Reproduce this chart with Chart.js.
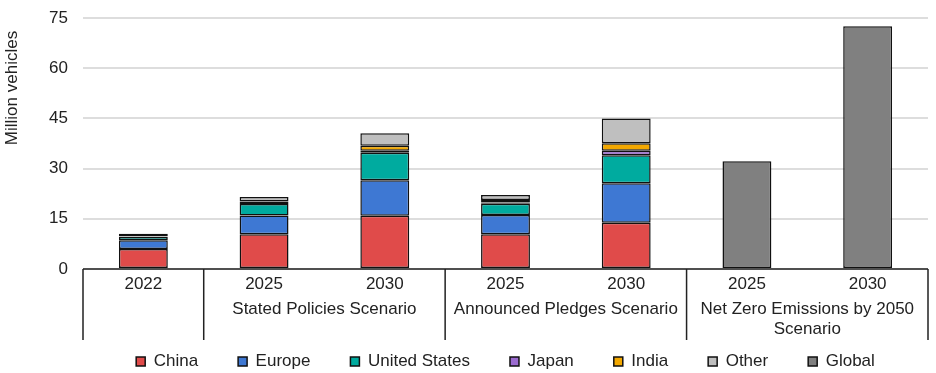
<!DOCTYPE html>
<html>
<head>
<meta charset="utf-8">
<title>Electric car sales by scenario</title>
<script src="https://cdn.jsdelivr.net/npm/chart.js@4.4.1/dist/chart.umd.min.js"></script>
<style>
  html, body { margin: 0; padding: 0; background: #fff; }
  #chartBox { width: 936px; height: 373px; }
</style>
</head>
<body>
<div id="chartBox"><canvas id="evChart"></canvas></div>
<script>
// Tick labels along the bottom, one per bar
const years = ["2022", "2025", "2030", "2025", "2030", "2025", "2030"];
// Scenario groups under the years (how many bars each one spans)
const groupNames = ["", "Stated Policies Scenario", "Announced Pledges Scenario", ["Net Zero Emissions by 2050", "Scenario"]];
const groupSpans = [1, 2, 2, 2];
const yTicks = [0, 15, 30, 45, 60, 75];
const yTitle = "Million vehicles";

// Million vehicles
const china = [6.0, 10.4, 15.9, 10.4, 13.8, null, null];
const europe = [2.6, 5.6, 10.6, 5.7, 11.8, null, null];
const unitedStates = [1.0, 3.4, 8.2, 3.4, 8.4, null, null];
const japan = [0.1, 0.3, 0.6, 0.4, 1.3, null, null];
const india = [0.1, 0.5, 1.5, 0.7, 2.3, null, null];
const other = [0.7, 1.3, 3.8, 1.5, 7.4, null, null];
const globalTotal = [null, null, null, null, null, 32.2, 72.5];

const FONT = '"Liberation Sans", Arial, sans-serif';
Chart.defaults.font.family = FONT;
Chart.defaults.font.size = 17;
Chart.defaults.color = "#222";

function series(label, data, color) {
  return {
    label: label,
    data: data,
    backgroundColor: color,
    borderColor: "#111",
    borderWidth: 1.5,
    borderSkipped: false,
    barPercentage: 0.405,
    categoryPercentage: 1
  };
}

// Draws the boxed category axis (base line, group separators, scenario names)
// and the y axis title, which sits high up on the left like in the original
const groupAxis = {
  id: "groupAxis",
  afterDraw(chart) {
    const ctx = chart.ctx;
    const area = chart.chartArea;
    const x = chart.scales.x;
    const edge = (i) => {
      if (i <= 0) return x.left;
      if (i >= years.length) return x.right;
      return (x.getPixelForValue(i - 1) + x.getPixelForValue(i)) / 2;
    };
    ctx.save();
    ctx.strokeStyle = "#222";
    ctx.lineWidth = 1.5;
    ctx.beginPath();
    ctx.moveTo(x.left, area.bottom);
    ctx.lineTo(x.right, area.bottom);
    let start = 0;
    const bounds = [0];
    groupSpans.forEach((n) => { start += n; bounds.push(start); });
    bounds.forEach((b) => {
      const px = edge(b);
      ctx.moveTo(px, area.bottom);
      ctx.lineTo(px, area.bottom + 71);
    });
    ctx.stroke();

    ctx.fillStyle = "#222";
    ctx.font = "17px " + FONT;
    ctx.textAlign = "center";
    ctx.textBaseline = "middle";
    groupNames.forEach((name, g) => {
      const cx = (edge(bounds[g]) + edge(bounds[g + 1])) / 2;
      const lines = Array.isArray(name) ? name : [name];
      lines.forEach((t, k) => ctx.fillText(t, cx, area.bottom + 40 + k * 20));
    });

    // y axis title
    ctx.translate(12, area.top + 70);
    ctx.rotate(-Math.PI / 2);
    ctx.fillText(yTitle, 0, 0);
    ctx.restore();
  }
};

new Chart(document.getElementById("evChart"), {
  type: "bar",
  data: {
    labels: years,
    datasets: [
      series("China", china, "#E04B4A"),
      series("Europe", europe, "#3E78D3"),
      series("United States", unitedStates, "#00AB9F"),
      series("Japan", japan, "#9B6BD0"),
      series("India", india, "#F3A800"),
      series("Other", other, "#BFBFBF"),
      series("Global", globalTotal, "#808080")
    ]
  },
  options: {
    responsive: true,
    maintainAspectRatio: false,
    animation: false,
    layout: { padding: { top: 18, right: 8, bottom: 0, left: 0 } },
    scales: {
      x: {
        stacked: true,
        grid: { display: false, drawTicks: false },
        border: { display: false },
        ticks: { padding: 5, color: "#222" },
        afterFit(scale) { scale.height = 44; }
      },
      y: {
        stacked: true,
        min: yTicks[0],
        max: yTicks[yTicks.length - 1],
        afterBuildTicks(scale) { scale.ticks = yTicks.map((v) => ({ value: v })); },
        grid: { color: "#DDDDDD", lineWidth: 2, drawTicks: true, tickLength: 15, tickColor: "rgba(0,0,0,0)" },
        border: { display: false },
        ticks: { padding: 0, color: "#222" },
        afterFit(scale) { scale.width = 83; }
      }
    },
    plugins: {
      legend: {
        position: "bottom",
        fullSize: false,
        maxHeight: 60,
        labels: { boxWidth: 9, boxHeight: 9, padding: 40, color: "#222" }
      },
      tooltip: { enabled: false }
    }
  },
  plugins: [groupAxis]
});
</script>
</body>
</html>
